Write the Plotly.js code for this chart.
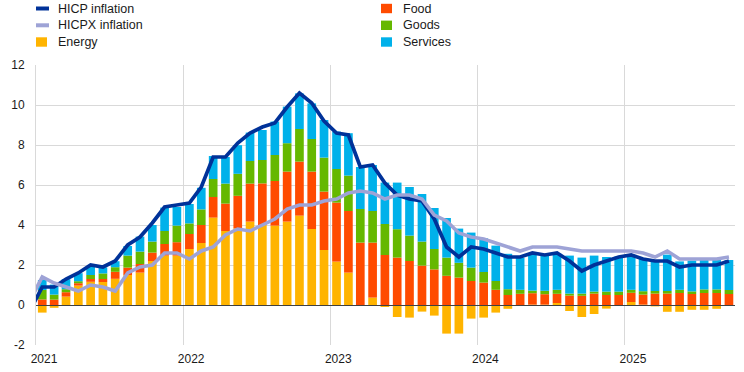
<!DOCTYPE html>
<html><head><meta charset="utf-8">
<script src="https://cdn.plot.ly/plotly-3.0.1.min.js"></script>
<style>html,body{margin:0;padding:0;background:#fff;}#chart{width:744px;height:372px;}</style>
</head><body><div id="chart"></div>
<script>
// Months for the inflation lines (Dec 2020 included so the line enters from the left edge)
const lineMonths = ['2020-12',
 '2021-01','2021-02','2021-03','2021-04','2021-05','2021-06','2021-07','2021-08','2021-09','2021-10','2021-11','2021-12',
 '2022-01','2022-02','2022-03','2022-04','2022-05','2022-06','2022-07','2022-08','2022-09','2022-10','2022-11','2022-12',
 '2023-01','2023-02','2023-03','2023-04','2023-05','2023-06','2023-07','2023-08','2023-09','2023-10','2023-11','2023-12',
 '2024-01','2024-02','2024-03','2024-04','2024-05','2024-06','2024-07','2024-08','2024-09','2024-10','2024-11','2024-12',
 '2025-01','2025-02','2025-03','2025-04','2025-05','2025-06','2025-07','2025-08','2025-09'];
const hicp = [-0.3,
 0.9,0.9,1.3,1.6,2.0,1.9,2.2,3.0,3.4,4.1,4.9,5.0,
 5.1,5.9,7.4,7.4,8.1,8.6,8.9,9.1,9.9,10.6,10.1,9.2,
 8.6,8.5,6.9,7.0,6.1,5.5,5.3,5.2,4.3,2.9,2.4,2.9,
 2.8,2.6,2.4,2.4,2.6,2.5,2.6,2.2,1.7,2.0,2.2,2.4,
 2.5,2.3,2.2,2.2,1.9,2.0,2.0,2.0,2.2];
const hicpx = [0.2,
 1.4,1.1,0.9,0.7,1.0,0.9,0.7,1.6,1.9,2.0,2.6,2.6,
 2.3,2.7,2.9,3.5,3.8,3.7,4.0,4.3,4.8,5.0,5.0,5.2,
 5.3,5.6,5.7,5.6,5.3,5.5,5.5,5.3,4.5,4.2,3.6,3.4,
 3.3,3.1,2.9,2.7,2.9,2.9,2.9,2.8,2.7,2.7,2.7,2.7,
 2.7,2.6,2.4,2.7,2.3,2.3,2.3,2.3,2.4];

// Months for the contribution bars (Jan 2021 - Sep 2025)
const barMonths = lineMonths.slice(1);
const energy = [
 -0.38,-0.14,0.42,0.97,1.16,1.15,1.31,1.5,1.62,2.2,2.47,2.47,
 2.8,3.1,4.37,3.7,3.83,4.17,4.0,3.97,4.17,4.47,3.8,2.75,
 2.17,1.62,-0.05,0.37,-0.1,-0.6,-0.63,-0.33,-0.53,-1.43,-1.43,-0.68,
 -0.63,-0.38,-0.19,-0.05,0.02,0.02,0.1,-0.3,-0.6,-0.45,-0.18,0.0,
 0.15,0.02,-0.07,-0.34,-0.34,-0.24,-0.24,-0.19,-0.02];
const food = [
 0.28,0.27,0.22,0.12,0.14,0.15,0.35,0.37,0.43,0.42,0.58,0.67,
 0.75,0.9,1.03,1.37,1.63,1.9,2.08,2.23,2.5,2.7,2.87,2.92,
 2.95,3.08,3.12,2.75,2.5,2.37,2.2,1.97,1.78,1.46,1.37,1.2,
 1.12,0.76,0.5,0.56,0.57,0.52,0.46,0.47,0.46,0.57,0.5,0.5,
 0.46,0.5,0.57,0.57,0.6,0.55,0.6,0.6,0.55];
const goods = [
 0.47,0.25,0.15,0.1,0.2,0.28,0.23,0.6,0.62,0.55,0.65,0.83,
 0.53,0.78,0.9,1.0,1.1,1.13,1.17,1.3,1.42,1.63,1.63,1.7,
 1.68,1.77,1.68,1.58,1.55,1.42,1.27,1.2,1.02,0.91,0.74,0.67,
 0.53,0.44,0.29,0.2,0.13,0.17,0.2,0.1,0.11,0.1,0.17,0.17,
 0.15,0.17,0.13,0.13,0.16,0.13,0.18,0.18,0.2];
const services = [
 0.5,0.5,0.5,0.4,0.45,0.3,0.3,0.48,0.75,0.83,1.17,0.93,
 0.97,1.08,1.15,1.33,1.43,1.42,1.5,1.67,1.83,1.78,1.78,1.88,
 1.87,2.12,2.1,2.3,2.07,2.33,2.43,2.38,2.05,1.98,1.71,1.75,
 1.68,1.77,1.77,1.6,1.8,1.78,1.8,1.9,1.8,1.8,1.73,1.75,
 1.74,1.63,1.5,1.82,1.42,1.54,1.47,1.47,1.5];

const yearTicks = ['2021-01-01','2022-01-01','2023-01-01','2024-01-01','2025-01-01'];
const yearLabels = ['2021','2022','2023','2024','2025'];

const FONT = 'Arial, "Liberation Sans", sans-serif';
const TEXT = '#1a1a1a';
const common = {xperiod: 'M1', xperiodalignment: 'middle', showlegend: false};

const C = {energy: '#ffb400', food: '#ff4b00', goods: '#65b800', services: '#00b1ea',
           hicp: '#003299', hicpx: '#9ea3d6'};

function barTrace(name, y, color) {
  return Object.assign({type: 'bar', name: name, x: barMonths, y: y,
    marker: {color: color, line: {width: 0}}, hoverinfo: 'skip'}, common);
}

const traces = [
  barTrace('Energy', energy, C.energy),
  barTrace('Food', food, C.food),
  barTrace('Goods', goods, C.goods),
  barTrace('Services', services, C.services),
  Object.assign({type: 'scatter', mode: 'lines', name: 'HICP inflation', x: lineMonths, y: hicp,
    line: {color: C.hicp, width: 3.7}}, common),
  Object.assign({type: 'scatter', mode: 'lines', name: 'HICPX inflation', x: lineMonths, y: hicpx,
    line: {color: C.hicpx, width: 3.6}}, common)
];

// Two-column legend drawn in the top margin (paper coordinates)
const W = 699, H = 280, L = 36, B = 345;
const px = v => (v - L) / W;
const py = v => (B - v) / H;
const legendEntries = [
  {label: 'HICP inflation', kind: 'line', color: C.hicp, col: 0, row: 0},
  {label: 'HICPX inflation', kind: 'line', color: C.hicpx, col: 0, row: 1},
  {label: 'Energy', kind: 'box', color: C.energy, col: 0, row: 2},
  {label: 'Food', kind: 'box', color: C.food, col: 1, row: 0},
  {label: 'Goods', kind: 'box', color: C.goods, col: 1, row: 1},
  {label: 'Services', kind: 'box', color: C.services, col: 1, row: 2}
];
const colSym = [36, 381], colText = [56, 401], rowY = [8.5, 25.3, 42];
const shapes = [], annotations = [];
legendEntries.forEach(e => {
  const x0 = colSym[e.col], yc = rowY[e.row];
  if (e.kind === 'line') {
    shapes.push({type: 'line', xref: 'paper', yref: 'paper', x0: px(x0), x1: px(x0 + 13),
      y0: py(yc), y1: py(yc), line: {color: e.color, width: 4}});
  } else {
    shapes.push({type: 'rect', xref: 'paper', yref: 'paper', x0: px(x0), x1: px(x0 + 11),
      y0: py(yc + 4.7), y1: py(yc - 4.7), fillcolor: e.color, line: {width: 0}});
  }
  annotations.push({xref: 'paper', yref: 'paper', x: px(colText[e.col]), y: py(yc),
    xanchor: 'left', yanchor: 'middle', showarrow: false, text: e.label,
    font: {family: FONT, size: 12.5, color: TEXT}});
});

const layout = {
  width: 744, height: 372,
  margin: {l: 36, r: 9, t: 65, b: 27},
  paper_bgcolor: '#ffffff', plot_bgcolor: '#ffffff',
  barmode: 'relative', bargap: 0.27,
  font: {family: FONT, size: 12, color: TEXT},
  showlegend: false,
  shapes: shapes, annotations: annotations,
  xaxis: {
    type: 'date', range: ['2021-01-01', '2025-10-01'],
    tickvals: yearTicks, ticktext: yearLabels, ticklabelshift: 8, ticklabelstandoff: 5,
    showgrid: true, gridcolor: '#d9d9d9', gridwidth: 1,
    zeroline: false, showline: false, ticks: '',
    tickfont: {family: FONT, size: 12, color: TEXT}
  },
  yaxis: {
    range: [-2, 12], tickvals: [-2,0,2,4,6,8,10,12], ticktext: ['-2','0','2','4','6','8','10','12'],
    showgrid: true, gridcolor: '#d9d9d9', gridwidth: 1,
    zeroline: true, zerolinecolor: '#404040', zerolinewidth: 1, zerolinelayer: 'above traces',
    showline: true, linecolor: '#d9d9d9', linewidth: 1,
    ticks: '', ticklabelstandoff: 8,
    tickfont: {family: FONT, size: 12, color: TEXT}
  }
};

Plotly.newPlot('chart', traces, layout, {displayModeBar: false, staticPlot: true});
</script>
</body></html>
